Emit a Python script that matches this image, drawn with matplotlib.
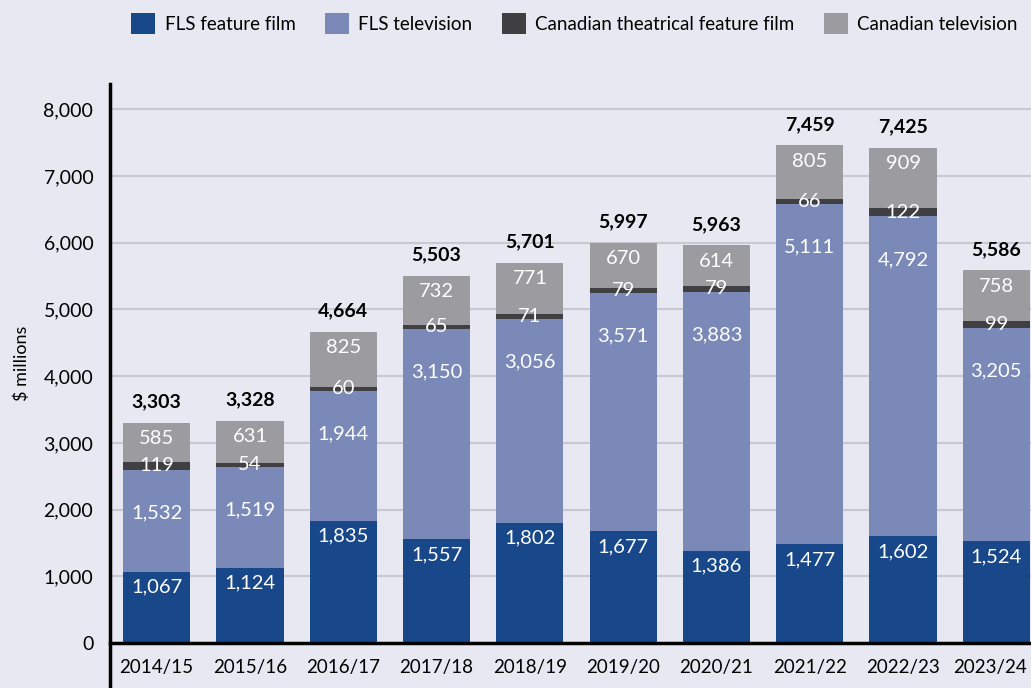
import numpy as np
import matplotlib
matplotlib.use("Agg")
from matplotlib import pyplot as plt
from matplotlib.patches import Patch

plt.rcParams['font.family'] = ['Lato', 'DejaVu Sans']

years = ["2014/15", "2015/16", "2016/17", "2017/18", "2018/19",
         "2019/20", "2020/21", "2021/22", "2022/23", "2023/24"]
fls_film = [1067, 1124, 1835, 1557, 1802, 1677, 1386, 1477, 1602, 1524]
fls_tv = [1532, 1519, 1944, 3150, 3056, 3571, 3883, 5111, 4792, 3205]
cdn_film = [119, 54, 60, 65, 71, 79, 79, 66, 122, 99]
cdn_tv = [585, 631, 825, 732, 771, 670, 614, 805, 909, 758]
totals = [3303, 3328, 4664, 5503, 5701, 5997, 5963, 7459, 7425, 5586]

series_names = ["FLS feature film", "FLS television",
                "Canadian theatrical feature film", "Canadian television"]
colors = ["#18478a", "#7b89b8", "#404042", "#9c9ca0"]
bg = "#e8e8f2"

fig = plt.figure(figsize=(10.31, 6.88), dpi=100, facecolor=bg)
ax = fig.add_axes([110 / 1031, 45 / 688, 933 / 1031, 559 / 688])
ax.set_facecolor(bg)

x = np.arange(len(years))
width = 0.72
series = [fls_film, fls_tv, cdn_film, cdn_tv]
# label offset from segment top, in points (None = centred)
offsets = [-11, -31, None, -11.5]
bottom = np.zeros(len(years))
for vals, col, off in zip(series, colors, offsets):
    vals = np.array(vals)
    ax.bar(x, vals, width, bottom=bottom, color=col, zorder=3)
    for xi, b, v in zip(x, bottom, vals):
        if off is None:
            ax.annotate(f"{v:,}", (xi, b + v / 2), ha="center", va="center",
                        color="white", fontsize=14.5, zorder=4)
        else:
            ax.annotate(f"{v:,}", (xi, b + v), xytext=(0, off), textcoords="offset points",
                        ha="center", va="center", color="white", fontsize=14.5, zorder=4)
    bottom = bottom + vals

for xi, t in zip(x, totals):
    ax.annotate(f"{t:,}", (xi, t), xytext=(0, 15), textcoords="offset points",
                ha="center", va="center", fontsize=14, fontweight="bold", color="black")

ax.set_xlim(-0.5, 9.5)
ax.set_ylim(0, 8380)
ax.set_yticks(range(0, 8001, 1000))
ax.set_yticklabels([f"{v:,}" for v in range(0, 8001, 1000)], fontsize=14)
ax.set_xticks(x)
ax.set_xticklabels([])
# category labels drawn by hand so the last one can sit inside the figure
for xi, yr in zip(x, years):
    dx = -4.5 if xi == x[-1] else 0
    ax.annotate(yr, (xi, 0), xytext=(dx, -17.5), textcoords="offset points",
                ha="center", va="center", fontsize=13.5, annotation_clip=False)
ax.tick_params(axis="both", length=0, pad=12)
ax.yaxis.grid(True, color="#c8c8d0", linewidth=1.5, zorder=0)
for s in ["top", "right"]:
    ax.spines[s].set_visible(False)
ax.spines["left"].set_visible(False)
ax.spines["bottom"].set_linewidth(2.5)
ax.spines["bottom"].set_zorder(5)
# left axis line runs down past the baseline
ax.plot([-0.5, -0.5], [8380, -700], color="black", linewidth=2.5, clip_on=False, zorder=6)

ax.set_ylabel("$ millions", fontsize=13, labelpad=10)

handles = [Patch(facecolor=c, edgecolor="none") for c in colors]
fig.legend(handles, series_names, loc="upper right", bbox_to_anchor=(1.0, 1.0), ncol=4,
           frameon=False, fontsize=13.5, handlelength=1.3, handleheight=1.3,
           handletextpad=0.5, columnspacing=1.55, borderaxespad=0.3)

fig.savefig("out.png", dpi=100, facecolor=bg)
